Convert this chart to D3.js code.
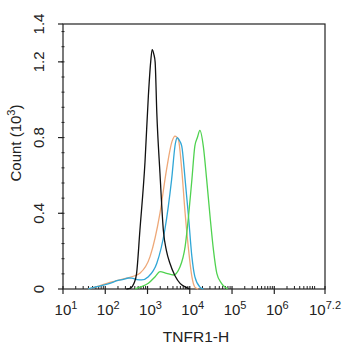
<!DOCTYPE html>
<html>
<head>
<meta charset="utf-8">
<script src="https://cdn.jsdelivr.net/npm/d3@7"></script>
<style>
  body { margin: 0; background: #fff; }
  text { font-family: "Liberation Sans", Arial, sans-serif; fill: #222; }
</style>
</head>
<body>
<div id="chart"></div>
<script>
// log10 of TNFR1-H, count in thousands
const blackLog = [2.5, 2.6, 2.68, 2.74, 2.82, 2.94, 3.02, 3.075, 3.11, 3.15, 3.18, 3.22, 3.295, 3.375, 3.45, 3.53, 3.65, 3.77, 3.9, 4.0];
const blackCount = [0, 0.005, 0.03, 0.08, 0.31, 0.67, 1.02, 1.2, 1.265, 1.24, 1.2, 0.93, 0.61, 0.31, 0.2, 0.136, 0.07, 0.03, 0.01, 0];

const orangeLog = [1.6, 1.8, 2.11, 2.3, 2.5, 2.7, 2.82, 3.06, 3.295, 3.45, 3.58, 3.65, 3.73, 3.81, 3.89, 3.97, 4.05, 4.12, 4.2];
const orangeCount = [0, 0.012, 0.035, 0.045, 0.057, 0.07, 0.083, 0.171, 0.401, 0.631, 0.78, 0.808, 0.79, 0.63, 0.4, 0.21, 0.065, 0.01, 0];

const blueLog = [1.6, 1.8, 2.11, 2.3, 2.43, 2.55, 2.63, 2.75, 2.86, 3.02, 3.22, 3.41, 3.57, 3.66, 3.705, 3.74, 3.81, 3.89, 3.97, 4.05, 4.12, 4.24, 4.32];
const blueCount = [0, 0.012, 0.03, 0.045, 0.051, 0.058, 0.057, 0.05, 0.048, 0.065, 0.136, 0.313, 0.578, 0.77, 0.8, 0.79, 0.755, 0.578, 0.383, 0.171, 0.065, 0.01, 0];

const greenLog = [2.7, 2.82, 3.02, 3.18, 3.295, 3.45, 3.61, 3.77, 3.89, 3.97, 4.05, 4.12, 4.18, 4.24, 4.32, 4.4, 4.48, 4.56, 4.64, 4.75, 4.83, 4.9];
const greenCount = [0, 0.01, 0.03, 0.065, 0.092, 0.083, 0.074, 0.118, 0.224, 0.383, 0.578, 0.755, 0.8, 0.838, 0.755, 0.578, 0.383, 0.207, 0.083, 0.03, 0.01, 0];

const xTickPowers = ["1", "2", "3", "4", "5", "6", "7.2"];
const yTicks = [0, 0.4, 0.8, 1.2, 1.4];

const width = 342, height = 350;
const margin = { left: 63, right: 17, top: 24, bottom: 61 };

const svg = d3.select("#chart").append("svg")
    .attr("width", width)
    .attr("height", height);

const x = d3.scaleLinear().domain([1, 7.2]).range([margin.left, width - margin.right]);
const y = d3.scaleLinear().domain([0, 1.4]).range([height - margin.bottom, margin.top]);

// frame
svg.append("rect")
    .attr("x", x(1)).attr("y", y(1.4))
    .attr("width", x(7.2) - x(1)).attr("height", y(0) - y(1.4))
    .attr("fill", "none").attr("stroke", "#222").attr("stroke-width", 1.2);

// x minor ticks (log), pointing inward
const minorX = [];
for (let p = 1; p < 7.2; p++) {
    for (let m = 2; m <= 9; m++) {
        const v = p + Math.log10(m);
        if (v < 7.2) minorX.push(v);
    }
}
svg.append("g").selectAll("line").data(minorX).join("line")
    .attr("x1", d => x(d)).attr("x2", d => x(d))
    .attr("y1", y(0)).attr("y2", y(0) - 3)
    .attr("stroke", "#222").attr("stroke-width", 1);

// x major ticks
svg.append("g").selectAll("line").data(xTickPowers).join("line")
    .attr("x1", d => x(+d)).attr("x2", d => x(+d))
    .attr("y1", y(0) - 3).attr("y2", y(0) + 5)
    .attr("stroke", "#222").attr("stroke-width", 1.2);

const xl = svg.append("g").selectAll("text").data(xTickPowers).join("text")
    .attr("x", (d, i) => i === xTickPowers.length - 1 ? width - 1 : x(+d) + 3)
    .attr("y", 315)
    .attr("text-anchor", (d, i) => i === xTickPowers.length - 1 ? "end" : "middle")
    .style("font-size", "15px");
xl.append("tspan").text("10");
xl.append("tspan").attr("dy", -6).style("font-size", "11px").text(d => d);

// y minor ticks every 0.08
const minorY = d3.range(1, 18).map(i => i * 0.08);
svg.append("g").selectAll("line").data(minorY).join("line")
    .attr("x1", x(1) - 1.5).attr("x2", x(1) + 1.5)
    .attr("y1", d => y(d)).attr("y2", d => y(d))
    .attr("stroke", "#222").attr("stroke-width", 1);

svg.append("g").selectAll("line").data(yTicks).join("line")
    .attr("x1", x(1) - 5).attr("x2", x(1))
    .attr("y1", d => y(d)).attr("y2", d => y(d))
    .attr("stroke", "#222").attr("stroke-width", 1.2);

svg.append("g").selectAll("text").data(yTicks).join("text")
    .attr("transform", d => `translate(44,${y(d)}) rotate(-90)`)
    .attr("text-anchor", "middle")
    .style("font-size", "15px")
    .text(d => d === 0 ? "0" : d.toFixed(1));

// axis titles
const yt = svg.append("text")
    .attr("transform", "translate(21,143) rotate(-90)")
    .attr("text-anchor", "middle")
    .style("font-size", "15px");
yt.append("tspan").text("Count (10");
yt.append("tspan").attr("dy", -6).style("font-size", "11px").text("3");
yt.append("tspan").attr("dy", 6).text(")");

svg.append("text")
    .attr("x", 196).attr("y", 342)
    .attr("text-anchor", "middle")
    .style("font-size", "15.5px")
    .text("TNFR1-H");

// curves
const line = d3.line()
    .x(d => x(d[0]))
    .y(d => y(d[1]))
    .curve(d3.curveMonotoneX);

const series = [
    { xs: orangeLog, ys: orangeCount, color: "#eea878" },
    { xs: blueLog, ys: blueCount, color: "#2fa6d6" },
    { xs: greenLog, ys: greenCount, color: "#4fd24f" },
    { xs: blackLog, ys: blackCount, color: "#111" }
];

svg.append("g").selectAll("path").data(series).join("path")
    .attr("d", s => line(d3.zip(s.xs, s.ys)))
    .attr("fill", "none")
    .attr("stroke", s => s.color)
    .attr("stroke-width", 1.3);
</script>
</body>
</html>
